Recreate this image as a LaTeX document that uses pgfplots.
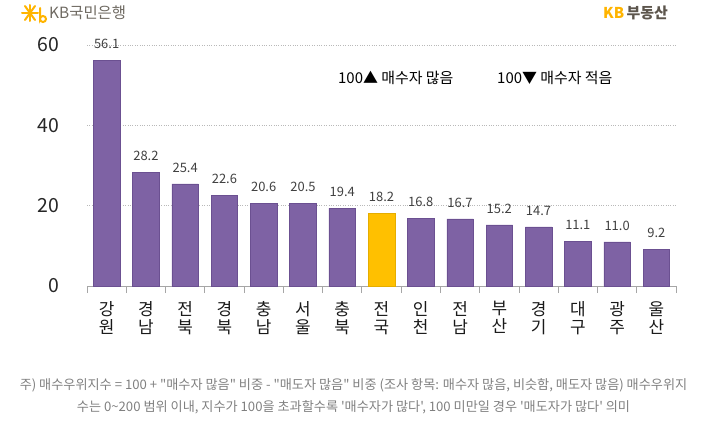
\documentclass[border=0pt]{standalone}
\usepackage{fontspec}
\setmainfont{Noto Sans CJK KR}
\newfontfamily\notefont{Noto Sans CJK KR}[Ligatures=TeXOff]
\usepackage{pgfplots}
\pgfplotsset{compat=1.18}

\definecolor{barpurple}{HTML}{7E62A4}
\definecolor{baredge}{HTML}{6B5091}
\definecolor{baryellow}{HTML}{FFC000}
\definecolor{labelgray}{HTML}{404040}
\definecolor{notegray}{HTML}{808080}
\definecolor{logogray}{HTML}{6E6961}
\definecolor{kbyellow}{HTML}{FFB400}
\definecolor{kbbrown}{HTML}{5C554C}

\begin{document}
\begin{tikzpicture}[x=1bp,y=1bp]
\path[use as bounding box] (0,0) rectangle (707,426);

% logos
\begin{scope}[kbyellow, line width=2bp, line cap=round]
  \draw (22,413) -- (38,413);
  \draw (25,420) -- (35,406);
  \draw (25,406) -- (35,420);
  \draw (30,421) -- (30,405);
  \draw (40,418) -- (40,407) arc[start angle=180, end angle=-180, radius=3bp];
\end{scope}
\node[anchor=west, inner sep=0, text=logogray, font=\fontsize{15.5}{15.5}\selectfont] at (49,413) {KB국민은행};
\node[anchor=west, inner sep=0, font=\bfseries\fontsize{15}{15}\selectfont] at (603,413)
  {\textcolor{kbyellow}{KB}\,\textcolor{kbbrown}{부동산}};

\begin{axis}[
  at={(87bp,140bp)}, anchor=south west,
  scale only axis, width=589bp, height=241bp,
  xmin=-0.5, xmax=14.5, ymin=0, ymax=60,
  clip=false,
  axis x line*=bottom, axis y line*=left,
  y axis line style={draw=none},
  x axis line style={draw=gray!70, line width=0.8bp},
  xtick={0,...,14},
  xticklabels={강\\원,경\\남,전\\북,경\\북,충\\남,서\\울,충\\북,전\\국,인\\천,전\\남,부\\산,경\\기,대\\구,광\\주,울\\산},
  minor xtick={-0.5,0.5,...,14.5},
  major tick length=0pt, minor tick length=7bp, tick align=outside,
  minor x tick style={draw=gray!70, line width=0.8bp},
  ytick={0,20,40,60},
  ytick style={draw=none},
  ymajorgrids, grid style={gray!55, dotted, line width=0.7bp},
  /pgf/number format/assume math mode=true,
  yticklabel style={font=\fontsize{19.5}{19.5}\selectfont, text=black!85, anchor=east, xshift=-24bp},
  xticklabel style={font=\fontsize{17}{18}\selectfont, text=black!90, align=center, anchor=north, yshift=-12bp},
  ybar, bar width=26.5bp,
  nodes near coords={\pgfmathprintnumber{\pgfplotspointmeta}},
  every node near coord/.append style={font=\fontsize{13}{13}\selectfont, text=labelgray, anchor=south, yshift=8bp,
    /pgf/number format/.cd, fixed, fixed zerofill, precision=1, assume math mode=true},
]
\addplot[fill=barpurple, draw=baredge, line width=0.5bp, bar shift=0pt] coordinates {
  (0,56.1) (1,28.2) (2,25.4) (3,22.6) (4,20.6) (5,20.5) (6,19.4)
  (8,16.8) (9,16.7) (10,15.2) (11,14.7) (12,11.1) (13,11.0) (14,9.2)};
\addplot[fill=baryellow, draw=baryellow!90!black, line width=0.5bp, bar shift=0pt] coordinates {(7,18.2)};
\end{axis}

% legend notes
\node[anchor=west, inner sep=0, font=\fontsize{15}{15}\selectfont] at (338,348) {100▲ 매수자 많음};
\node[anchor=west, inner sep=0, font=\fontsize{15}{15}\selectfont] at (497,348) {100▼ 매수자 적음};

% footnote
\node[align=center, inner sep=0, text=notegray, font=\notefont\fontsize{13.2}{22}\selectfont] at (353.5,30)
  {주) 매수우위지수 = 100 + "매수자 많음" 비중 - "매도자 많음" 비중 (조사 항목: 매수자 많음, 비슷함, 매도자 많음) 매수우위지\\
   수는 0{\char`\~}200 범위 이내, 지수가 100을 초과할수록 '매수자가 많다', 100 미만일 경우 '매도자가 많다' 의미};
\end{tikzpicture}
\end{document}
